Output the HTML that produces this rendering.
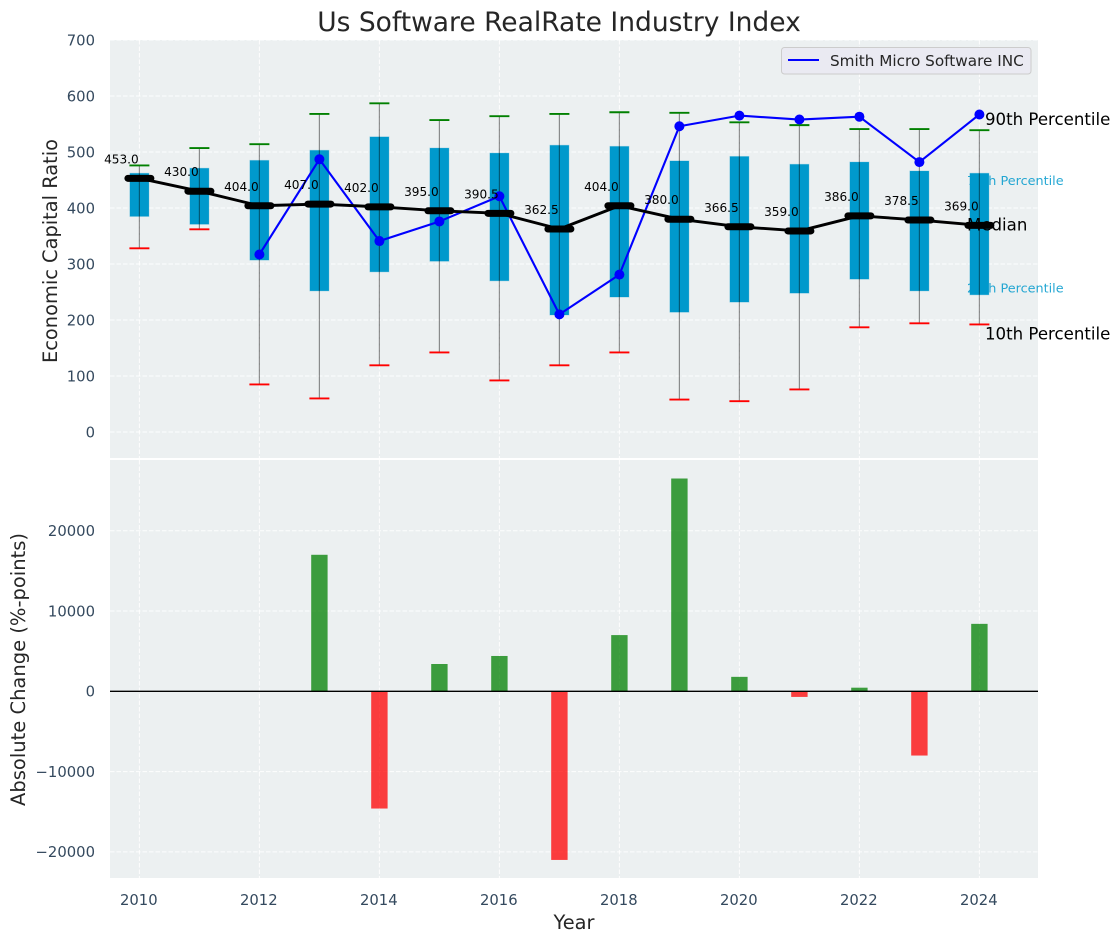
<!DOCTYPE html>
<html lang="en">
<head>
<meta charset="utf-8">
<title>Us Software RealRate Industry Index</title>
<style>
html,body{margin:0;padding:0;background:#fff;}
svg{display:block;font-family:"DejaVu Sans","Liberation Sans",sans-serif;}
</style>
</head>
<body>
<svg id="chart" xmlns="http://www.w3.org/2000/svg" width="1120" height="942" viewBox="0 0 1120 942">
  <rect width="1120" height="942" fill="#ffffff"/>
  <text x="559" y="31" text-anchor="middle" font-size="26.5" fill="#262626">Us Software RealRate Industry Index</text>
  <rect x="110" y="40" width="928" height="418" fill="#ecf0f1"/>
  <rect x="110" y="460" width="928" height="418" fill="#ecf0f1"/>
  <g id="upper-grid"></g>
  <g id="lower-grid"></g>
  <g id="upper-y-ticks"></g>
  <g id="lower-y-ticks"></g>
  <g id="x-ticks"></g>
  <text transform="translate(57,251) rotate(-90)" text-anchor="middle" font-size="19.4" fill="#262626">Economic Capital Ratio</text>
  <text transform="translate(25,669.5) rotate(-90)" text-anchor="middle" font-size="19.5" fill="#262626">Absolute Change (%-points)</text>
  <text x="574" y="929" text-anchor="middle" font-size="19.4" fill="#262626">Year</text>
  <g id="percentile-side-labels"></g>
  <g id="boxes"></g>
  <g id="whiskers"></g>
  <g id="company-series"></g>
  <g id="median-series"></g>
  <g id="median-labels"></g>
  <g id="end-labels"></g>
  <g id="bars"></g>
  <line x1="110" x2="1038" y1="691.3" y2="691.3" stroke="#000000" stroke-width="1.4"/>
  <g>
    <rect x="781.5" y="47.5" width="249.5" height="26.5" rx="3" fill="#eaeaf2" stroke="#cccccc" stroke-width="1"/>
    <line x1="788" x2="819" y1="60" y2="60" stroke="#0000ff" stroke-width="2"/>
    <text x="830" y="66" font-size="15.25" fill="#262626">Smith Micro Software INC</text>
  </g>
</svg>
<script>
const years = [2010,2011,2012,2013,2014,2015,2016,2017,2018,2019,2020,2021,2022,2023,2024];
const p90 = [476,507,514,568,587,557,564,568,571,570,553,548,541,541,539];
const p75 = [462,471,485,503,527,507,498,512,510,484,492,478,482,466,462];
const medians = [453,430,404,407,402,395,390.5,362.5,404,380,366.5,359,386,378.5,369];
const p25 = [385,371,307,252,286,305,270,209,241,214,232,248,273,252,245];
const p10 = [328,362,85,60,119,142,92,119,142,58,55,76,187,194,192];
const company = [null,null,317,487,341,376,421,210,281,546,565,558,563,482,567];
const changes = [null,null,null,17000,-14600,3400,4400,-21000,7000,26500,1800,-700,450,-8000,8400];
const upperTicks = [0,100,200,300,400,500,600,700];
const lowerTicks = [-20000,-10000,0,10000,20000];
const xTicks = [2010,2012,2014,2016,2018,2020,2022,2024];

const NS = 'http://www.w3.org/2000/svg';
function x(year){ return 139.4 + (year - 2010) * 60; }
function yUpper(v){ return 432 - v * 0.56; }
function yLower(v){ return 691.3 - v * 0.00803; }
function mk(tag, parent, attrs, text){
  const el = document.createElementNS(NS, tag);
  for (const k in attrs) el.setAttribute(k, attrs[k]);
  if (text !== undefined) el.textContent = text;
  document.getElementById(parent).appendChild(el);
  return el;
}
function label(v){ return v.toFixed(1); }
function tickText(v){ return String(v).replace('-', '\u2212'); }
const GRID = {stroke:'#ffffff','stroke-width':1,'stroke-dasharray':'4.5 2','stroke-opacity':0.9};

xTicks.forEach(function(t){
  const gu = mk('line','upper-grid',Object.assign({x1:x(t),x2:x(t),y1:40,y2:458},GRID));
  
  
  const gl = mk('line','lower-grid',Object.assign({x1:x(t),x2:x(t),y1:460,y2:878},GRID));
  
  
  const tl = mk('text','x-ticks',{x:x(t)-0.6,y:905,'text-anchor':'middle','font-size':14.8,fill:'#34495e'},String(t));
  
  
});
upperTicks.forEach(function(t){
  const g = mk('line','upper-grid',Object.assign({x1:110,x2:1038,y1:yUpper(t),y2:yUpper(t)},GRID));
  
  
  const tl = mk('text','upper-y-ticks',{x:95,y:yUpper(t)+5.3,'text-anchor':'end','font-size':14.8,fill:'#34495e'},tickText(t));
  
  
});
lowerTicks.forEach(function(t){
  const g = mk('line','lower-grid',Object.assign({x1:110,x2:1038,y1:yLower(t),y2:yLower(t)},GRID));
  
  
  const tl = mk('text','lower-y-ticks',{x:95,y:yLower(t)+5.3,'text-anchor':'end','font-size':14.8,fill:'#34495e'},tickText(t));
  
  
});

const last = years.length - 1;
const s75 = mk('text','percentile-side-labels',{x:x(years[last])-12.4,y:yUpper(p75[last])+11.5,'font-size':12.8,fill:'#0099cc','fill-opacity':0.85},'75th Percentile');


const s25 = mk('text','percentile-side-labels',{x:x(years[last])-12.4,y:yUpper(p25[last])-2.5,'font-size':12.8,fill:'#0099cc','fill-opacity':0.85},'25th Percentile');



years.forEach(function(yr,i){
  const cx = x(yr);
  const box = mk('rect','boxes',{x:cx-9.5,y:yUpper(p75[i]),width:19,height:yUpper(p25[i])-yUpper(p75[i]),fill:'#0099cc',stroke:'#0099cc','stroke-opacity':0.25,'stroke-width':1});
  
  
  const wh = mk('line','whiskers',{x1:cx,x2:cx,y1:yUpper(p90[i]),y2:yUpper(p10[i]),stroke:'#000000','stroke-width':1.2,'stroke-opacity':0.42});
  
  
  const ct = mk('line','whiskers',{x1:cx-10,x2:cx+10,y1:yUpper(p90[i]),y2:yUpper(p90[i]),stroke:'#008000','stroke-width':1.9});
  
  
  const cb = mk('line','whiskers',{x1:cx-10,x2:cx+10,y1:yUpper(p10[i]),y2:yUpper(p10[i]),stroke:'#ff0000','stroke-width':1.9});
  
  
});

const companyPts = [];
years.forEach(function(yr,i){ if (company[i] !== null) companyPts.push(x(yr)+','+yUpper(company[i])); });
const cLine = mk('polyline','company-series',{points:companyPts.join(' '),fill:'none',stroke:'#0000ff','stroke-width':2.1,'stroke-linejoin':'round'});


years.forEach(function(yr,i){
  if (company[i] === null) return;
  const p = mk('circle','company-series',{cx:x(yr),cy:yUpper(company[i]),r:5,fill:'#0000ff'});
  
  
});

const medPts = years.map(function(yr,i){ return x(yr)+','+yUpper(medians[i]); });
const mLine = mk('polyline','median-series',{points:medPts.join(' '),fill:'none',stroke:'#000000','stroke-width':2.9,'stroke-linejoin':'round'});


years.forEach(function(yr,i){
  const cx = x(yr), cy = yUpper(medians[i]);
  const m = mk('line','median-series',{x1:cx-11.5,x2:cx+11.5,y1:cy,y2:cy,stroke:'#000000','stroke-width':7,'stroke-linecap':'round'});
  
  
  const t = mk('text','median-labels',{x:cx-0.7,y:cy-15,'text-anchor':'end','font-size':12.1,fill:'#000000'},label(medians[i]));
  
  
});

const e90 = mk('text','end-labels',{x:985,y:yUpper(p90[last])-5,'font-size':16.6,fill:'#000000'},'90th Percentile');


const eMed = mk('text','end-labels',{x:967,y:yUpper(medians[last])+5,'font-size':16.6,fill:'#000000'},'Median');


const e10 = mk('text','end-labels',{x:985,y:yUpper(p10[last])+15,'font-size':16.6,fill:'#000000'},'10th Percentile');



years.forEach(function(yr,i){
  const v = changes[i];
  if (v === null) return;
  const y0 = yLower(0), y1 = yLower(v);
  const b = mk('rect','bars',{x:x(yr)-8.2,y:Math.min(y0,y1),width:16.4,height:Math.abs(y1-y0),fill:v>=0?'#008000':'#ff0000','fill-opacity':0.75});
  
  
});
</script>
</body>
</html>
